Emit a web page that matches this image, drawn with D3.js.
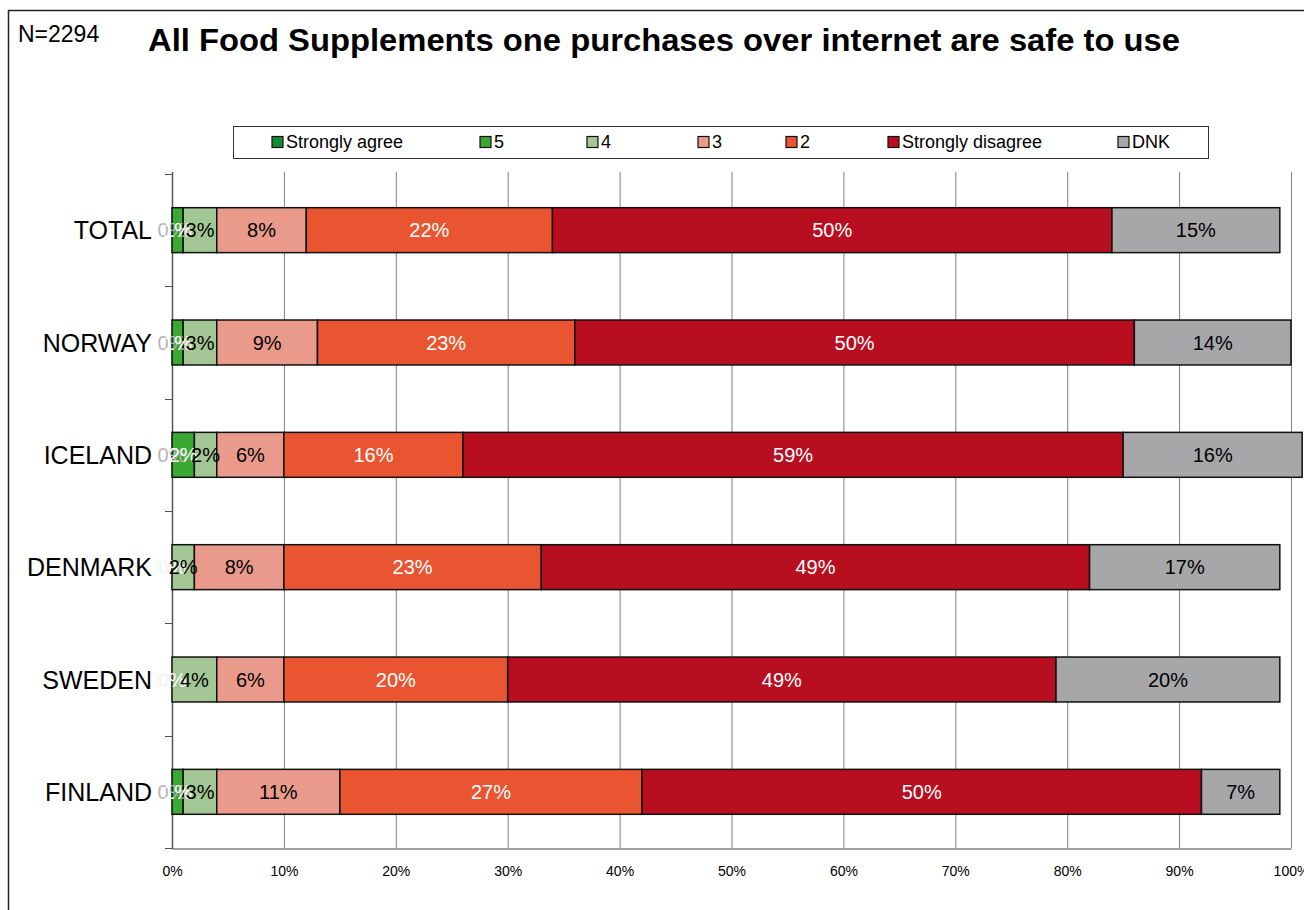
<!DOCTYPE html>
<html><head><meta charset="utf-8">
<script src="https://cdn.jsdelivr.net/npm/d3@7"></script>
<style>body{margin:0;background:#fff;}svg{display:block;font-family:"Liberation Sans",Arial,sans-serif;}</style>
</head><body>
<script>
const categories = ["TOTAL","NORWAY","ICELAND","DENMARK","SWEDEN","FINLAND"];
const seriesNames = ["Strongly agree","5","4","3","2","Strongly disagree","DNK"];
const stronglyAgree = [0,0,0,0,0,0];
const five = [1,1,2,0,0,1];
const four = [3,3,2,2,4,3];
const three = [8,9,6,8,6,11];
const two = [22,23,16,23,20,27];
const stronglyDisagree = [50,50,59,49,49,50];
const dnk = [15,14,16,17,20,7];
const xTicks = [0,10,20,30,40,50,60,70,80,90,100];
const title = "All Food Supplements one purchases over internet are safe to use";
const nLabel = "N=2294";

const seriesValues = [stronglyAgree,five,four,three,two,stronglyDisagree,dnk];
const colors = ["#178a3a","#3aa832","#a3c794","#ea9a8a","#e95431","#b80f20","#a7a7a9"];
const labelColors = ["#b5b5b5","#ffffff","#000000","#000000","#ffffff","#ffffff","#000000"];

const W = 1304, H = 910;
const svg = d3.select("body").append("svg").attr("width",W).attr("height",H);

// frame
svg.append("path").attr("d",`M8.5,${H} L8.5,10.5 L${W},10.5`).attr("fill","none").attr("stroke","#222").attr("stroke-width",1.5);

svg.append("text").attr("x",18).attr("y",42).attr("font-size",23).text(nLabel);
svg.append("text").attr("x",148).attr("y",51).attr("font-size",31).attr("font-weight","bold")
  .attr("textLength",1032).attr("lengthAdjust","spacingAndGlyphs").text(title);

const x = d3.scaleLinear().domain([0,100]).range([172,1291]);
const y = d3.scaleBand().domain(categories).range([174,848]).paddingInner(0.6).paddingOuter(0.3);

// gridlines
svg.append("g").selectAll("line").data(xTicks.slice(1)).join("line")
  .attr("x1",d=>x(d)+0.5).attr("x2",d=>x(d)+0.5).attr("y1",172).attr("y2",848)
  .attr("stroke","#808080").attr("stroke-width",1);

// x axis
const xAxis = svg.append("g").attr("transform","translate(0,848.5)")
  .call(d3.axisBottom(x).tickValues(xTicks).tickSize(0).tickFormat(d=>d+"%"));
xAxis.select(".domain").attr("stroke","#808080").attr("stroke-width",1.5);
xAxis.selectAll("text").attr("font-size",14).attr("font-family","Liberation Sans, Arial, sans-serif").attr("dy","0").attr("y",27).attr("fill","#000");

// left axis with ticks at band boundaries
const bounds = d3.range(categories.length+1).map(i=>174 + i*(674/categories.length));
svg.append("line").attr("x1",172.5).attr("x2",172.5).attr("y1",172).attr("y2",849).attr("stroke","#555").attr("stroke-width",1.5);
svg.append("g").selectAll("line").data(bounds).join("line")
  .attr("x1",165).attr("x2",172).attr("y1",d=>Math.round(d)+0.5).attr("y2",d=>Math.round(d)+0.5)
  .attr("stroke","#555").attr("stroke-width",1);

// category labels
svg.append("g").selectAll("text").data(categories).join("text")
  .attr("x",152).attr("y",d=>y(d)+y.bandwidth()/2).attr("dy","0.36em")
  .attr("text-anchor","end").attr("font-size",25).text(d=>d);

// stacked data
const rows = categories.map((c,i)=>{const o={cat:c}; seriesNames.forEach((s,j)=>o[s]=seriesValues[j][i]); return o;});
const stack = d3.stack().keys(seriesNames)(rows);

const g = svg.append("g");
stack.forEach((layer,j)=>{
  g.append("g").selectAll("rect").data(layer.filter(d=>d[1]-d[0]>0)).join("rect")
    .attr("x",d=>x(d[0])).attr("width",d=>x(d[1])-x(d[0]))
    .attr("y",d=>y(d.data.cat)).attr("height",y.bandwidth())
    .attr("fill",colors[j]).attr("stroke","#111").attr("stroke-width",1.5);
});
// labels
stack.forEach((layer,j)=>{
  g.append("g").selectAll("text").data(layer).join("text")
    .attr("x",d=>x((d[0]+d[1])/2)).attr("y",d=>y(d.data.cat)+y.bandwidth()/2).attr("dy","0.36em")
    .attr("text-anchor","middle").attr("font-size",20).attr("fill",labelColors[j])
    .text(d=>(d[1]-d[0])+"%");
});

// legend
svg.append("rect").attr("x",233.5).attr("y",126.5).attr("width",975).attr("height",32).attr("fill","#fff").attr("stroke","#333").attr("stroke-width",1);
const legendX = [272,480,587,698,786,888,1118];
const lg = svg.append("g").selectAll("g").data(seriesNames).join("g")
  .attr("transform",(d,i)=>`translate(${legendX[i]},142)`);
lg.append("rect").attr("x",0).attr("y",-5.5).attr("width",11).attr("height",11)
  .attr("fill",(d,i)=>colors[i]).attr("stroke","#111").attr("stroke-width",1.2);
lg.append("text").attr("x",14).attr("y",0).attr("dy","0.36em").attr("font-size",18).text(d=>d);
</script>
</body></html>
